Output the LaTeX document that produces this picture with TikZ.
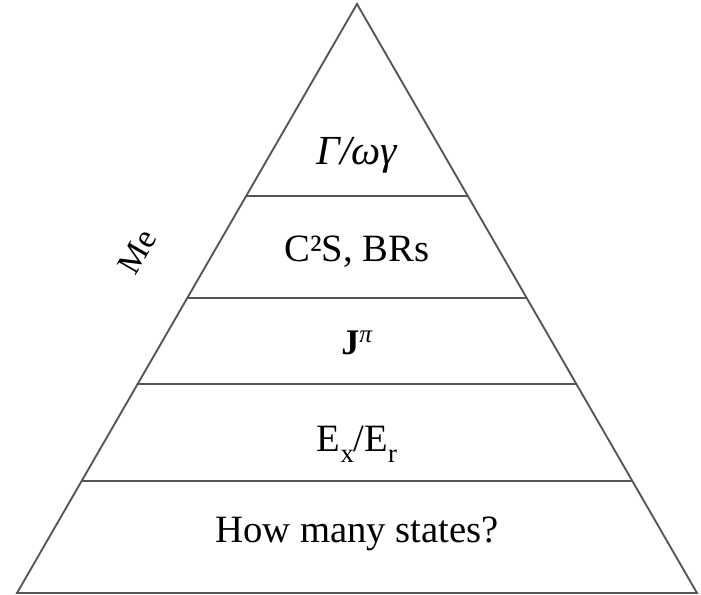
\documentclass[tikz,border=0pt]{standalone}
\usepackage{fontspec}
\setmainfont{Liberation Serif}
\usetikzlibrary{calc}
\definecolor{edge}{HTML}{555555}
\newcommand\lowidx[1]{\raisebox{-8pt}{\fontsize{20}{24}\selectfont #1}}
\tikzset{
  layer/.style={draw=edge,line width=1.4pt},
  tier/.style={anchor=base,font=\fontsize{29}{34}\selectfont},
}

\begin{document}
\begin{tikzpicture}[x=0.75pt,y=-0.75pt]
  \useasboundingbox (0,0) rectangle (701,595);

  % Outline of the pyramid
  \coordinate (apex) at (357,4);
  \coordinate (baseL) at (17,593);
  \coordinate (baseR) at (697,593);
  \draw[layer] (apex) -- (baseR) -- (baseL) -- cycle;

  % Dividers between the tiers
  \foreach \t in {0.326,0.499,0.645,0.810}
    \draw[layer] ($(apex)!\t!(baseL)$) -- ($(apex)!\t!(baseR)$);

  % Tier labels, top to bottom
  \node[tier,font=\fontsize{31}{36}\selectfont] (width) at (357,165) {\itshape Γ/ωγ};
  \node[tier] (strength) at (357,262) {C²S, BRs};
  \node[tier,font=\fontsize{27}{32}\selectfont] (spin) at (357,355) {\textbf{J}\textsuperscript{\itshape π}};
  \node[tier] (energy) at (357,452) {E\lowidx{x}/E\lowidx{r}};
  \node[tier] (count) at (357,543) {How many states?};

  % Side label along the left edge
  \node[rotate=60,font=\fontsize{25}{29}\selectfont] (me) at (137,252) {Me};
\end{tikzpicture}
\end{document}
